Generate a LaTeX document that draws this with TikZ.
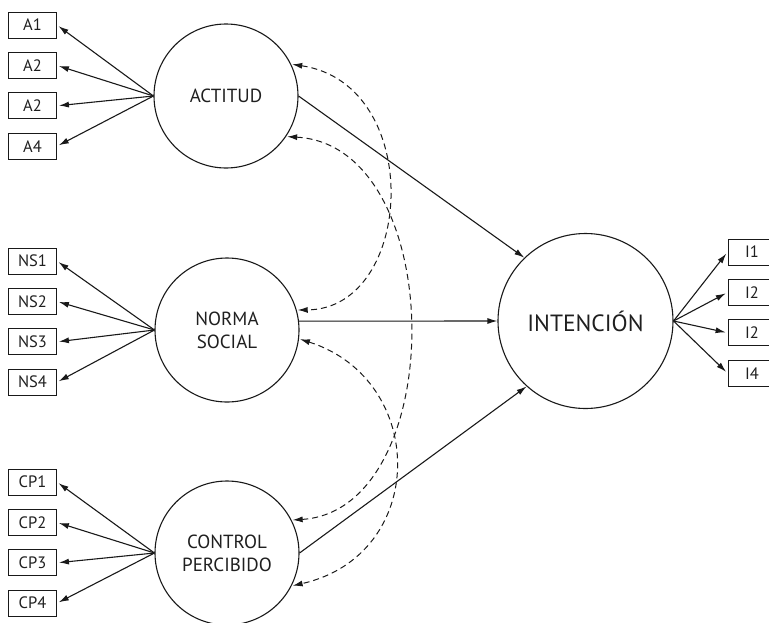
\documentclass[tikz,border=0pt]{standalone}
\usepackage{fontspec}
\setmainfont{PT Sans}
\usetikzlibrary{positioning, arrows.meta}
\colorlet{drawColor}{black!90}
\colorlet{textColor}{black!88}
\tikzstyle{latent}=[circle, minimum size=144pt, inner sep=0pt, align=center,
draw=drawColor, line width=1.1pt, text=textColor, font=\fontsize{19}{23}\selectfont]
\tikzstyle{indicator}=[rectangle, minimum width=48pt, minimum height=26pt, inner sep=0pt,
draw=drawColor, line width=0.9pt, text=textColor, font=\fontsize{16.5}{18}\selectfont]
\tikzstyle{arrow}=[-{Latex[length=10pt, width=6pt]}, line width=1.1pt, draw=drawColor]
\tikzstyle{load}=[arrow, shorten >=2pt]
\tikzstyle{covar}=[{Latex[length=10pt, width=6pt]}-{Latex[length=10pt, width=6pt]},
line width=1pt, dash pattern=on 6pt off 4pt, draw=drawColor, shorten <=1pt, shorten >=1pt]

\begin{document}
\begin{tikzpicture}[x=1pt, y=1pt, node distance=13.5pt]
      \useasboundingbox (0,0) rectangle (769,-622);
      \node(act) [latent] at (226,-96) {ACTITUD};
      \node(ns) [latent] at (227,-330) {NORMA\\SOCIAL};
      \node(cp) [latent] at (227,-553) {CONTROL\\PERCIBIDO};
      \node(int) [latent, minimum size=175pt, font=\fontsize{23.5}{27}\selectfont] at (585.5,-321) {INTENCIÓN};
      \node(a1) [indicator] at (32.5,-25) {A1};
      \node(a2) [indicator, below=of a1] {A2};
      \node(a3) [indicator, below=of a2] {A2};
      \node(a4) [indicator, below=of a3] {A4};
      \draw [load] (act.west) -- (a1.east);
      \draw [load] (act.west) -- (a2.east);
      \draw [load] (act.west) -- (a3.east);
      \draw [load] (act.west) -- (a4.east);
      \node(ns1) [indicator] at (32.5,-261) {NS1};
      \node(ns2) [indicator, below=of ns1] {NS2};
      \node(ns3) [indicator, below=of ns2] {NS3};
      \node(ns4) [indicator, below=of ns3] {NS4};
      \draw [load] (ns.west) -- (ns1.east);
      \draw [load] (ns.west) -- (ns2.east);
      \draw [load] (ns.west) -- (ns3.east);
      \draw [load] (ns.west) -- (ns4.east);
      \node(cp1) [indicator] at (32.5,-482) {CP1};
      \node(cp2) [indicator, below=of cp1] {CP2};
      \node(cp3) [indicator, below=of cp2] {CP3};
      \node(cp4) [indicator, below=of cp3] {CP4};
      \draw [load] (cp.west) -- (cp1.east);
      \draw [load] (cp.west) -- (cp2.east);
      \draw [load] (cp.west) -- (cp3.east);
      \draw [load] (cp.west) -- (cp4.east);
      \node(i1) [indicator] at (752,-252) {I1};
      \node(i2) [indicator, below=of i1] {I2};
      \node(i3) [indicator, below=of i2] {I2};
      \node(i4) [indicator, below=of i3] {I4};
      \draw [load] (int.east) -- (i1.west);
      \draw [load] (int.east) -- (i2.west);
      \draw [load] (int.east) -- (i3.west);
      \draw [load] (int.east) -- (i4.west);
      \draw [arrow] (act.east) -- (int.134);
      \draw [arrow] (ns.7) -- (int.west);
      \draw [arrow] (cp.east) -- (int.228);
      \draw [covar] (act.26) .. controls +(134,-20) and +(118,1) .. (ns.16);
      \draw [covar] (act.-34) .. controls +(163,-9) and +(158,10) .. (cp.27);
      \draw [covar] (ns.-7) .. controls +(129,-41) and +(137,31) .. (cp.-27);
    \end{tikzpicture}
\end{document}
